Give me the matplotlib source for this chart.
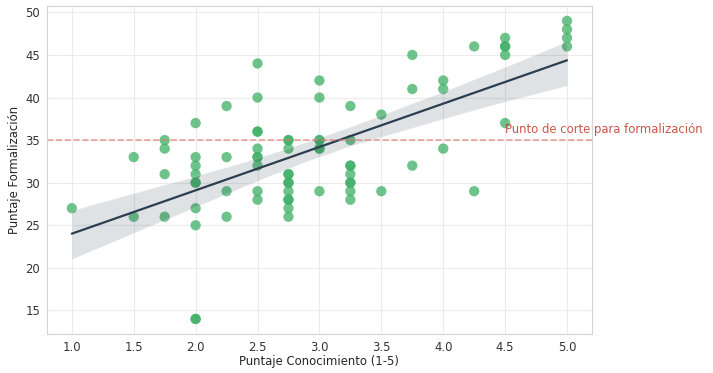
import numpy as np
import pandas as pd
import matplotlib
matplotlib.use("Agg")
import matplotlib.pyplot as plt
import seaborn as sns

# puntajes (conocimiento, formalizacion)
conocimiento = [1.0,
                1.5, 1.5,
                1.75, 1.75, 1.75, 1.75,
                2.0, 2.0, 2.0, 2.0, 2.0, 2.0, 2.0, 2.0, 2.0, 2.0,
                2.25, 2.25, 2.25, 2.25,
                2.5, 2.5, 2.5, 2.5, 2.5, 2.5, 2.5, 2.5, 2.5, 2.5,
                2.75, 2.75, 2.75, 2.75, 2.75, 2.75, 2.75, 2.75, 2.75, 2.75, 2.75, 2.75,
                3.0, 3.0, 3.0, 3.0, 3.0, 3.0, 3.0,
                3.25, 3.25, 3.25, 3.25, 3.25, 3.25, 3.25, 3.25, 3.25,
                3.5, 3.5,
                3.75, 3.75, 3.75,
                4.0, 4.0, 4.0,
                4.25, 4.25,
                4.5, 4.5, 4.5, 4.5, 4.5,
                5.0, 5.0, 5.0, 5.0]
formalizacion = [27,
                 33, 26,
                 35, 34, 31, 26,
                 37, 33, 32, 31, 30, 30, 27, 25, 14, 14,
                 39, 33, 29, 26,
                 44, 40, 36, 36, 34, 33, 33, 32, 29, 28,
                 35, 35, 34, 31, 31, 30, 30, 29, 28, 28, 27, 26,
                 42, 40, 35, 35, 34, 34, 29,
                 39, 35, 32, 32, 31, 30, 30, 29, 28,
                 38, 29,
                 45, 41, 32,
                 42, 41, 34,
                 46, 29,
                 47, 46, 46, 45, 37,
                 49, 48, 47, 46]
corte = 35

df = pd.DataFrame({'conocimiento': conocimiento, 'formalizacion': formalizacion})

sns.set_style('whitegrid')
plt.rcParams['font.family'] = ['DejaVu Sans']

fig = plt.figure(figsize=(7.13, 3.73), dpi=100)
ax = fig.add_axes([0.066, 0.105, 0.764, 0.879])

sns.regplot(data=df, x='conocimiento', y='formalizacion', ax=ax, seed=0,
            scatter_kws={'s': 55, 'color': '#3daf64', 'alpha': 0.75, 'edgecolor': 'none'},
            line_kws={'color': '#2c3e50', 'linewidth': 1.6})

ax.axhline(corte, color='#e07b6f', linestyle='--', linewidth=1.2, alpha=0.7)
ax.text(4.5, corte + 0.5, 'Punto de corte para formalización', color='#c0392b',
        fontsize=8.4, va='bottom', ha='left', alpha=0.85)

ax.set_xlabel('Puntaje Conocimiento (1-5)', fontsize=8.4, labelpad=1)
ax.set_ylabel('Puntaje Formalización', fontsize=8.4, labelpad=3)
ax.tick_params(labelsize=8.4, colors='#333333', pad=1.5)
for s in ax.spines.values():
    s.set_color('#d5d5d5')
ax.grid(color='#ebebeb')

plt.savefig('out.png', dpi=100)
